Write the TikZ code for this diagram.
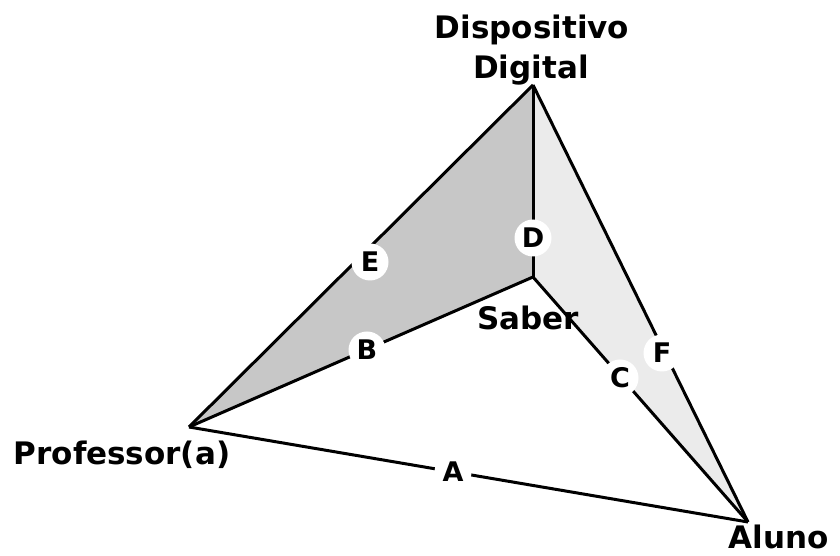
\documentclass[tikz,border=0pt]{standalone}
\usepackage{fontspec}
\setmainfont{DejaVu Sans}
\begin{document}
\begin{tikzpicture}[x=1pt,y=1pt,
  edge/.style={line width=3pt,line join=round},
  lbl/.style={font=\bfseries\fontsize{31}{34}\selectfont,inner sep=0pt},
  tag/.style={circle,fill=white,inner sep=0pt,minimum size=37pt,font=\bfseries\fontsize{27}{29}\selectfont}]
\useasboundingbox (0,0) rectangle (840,556);
\coordinate (apex) at (533,471);
\coordinate (saber) at (533,279);
\coordinate (prof) at (189,129);
\coordinate (aluno) at (748,34);
\fill[black!22] (prof) -- (apex) -- (saber) -- cycle;
\fill[black!8] (saber) -- (apex) -- (aluno) -- cycle;
\node[lbl] (tdisp) at (532,526) {Dispositivo};
\node[lbl] (tdig) at (531,486) {Digital};
\node[lbl] (tsaber) at (528,238) {Saber};
\node[lbl] (tprof) at (122,101) {Professor(a)};
\node[lbl] (taluno) at (779,19) {Aluno};
\draw[edge] (apex) -- (prof);
\draw[edge] (apex) -- (saber);
\draw[edge] (apex) -- (aluno);
\draw[edge] (saber) -- (prof);
\draw[edge] (saber) -- (aluno);
\draw[edge] (prof) -- (aluno);
\node[tag] (E) at (370,294) {E};
\node[tag] (B) at (367,206) {B};
\node[tag] (D) at (533,318) {D};
\node[tag] (C) at (620,178) {C};
\node[tag] (F) at (662,203) {F};
\node[tag] (A) at (453,84) {A};
\end{tikzpicture}
\end{document}
